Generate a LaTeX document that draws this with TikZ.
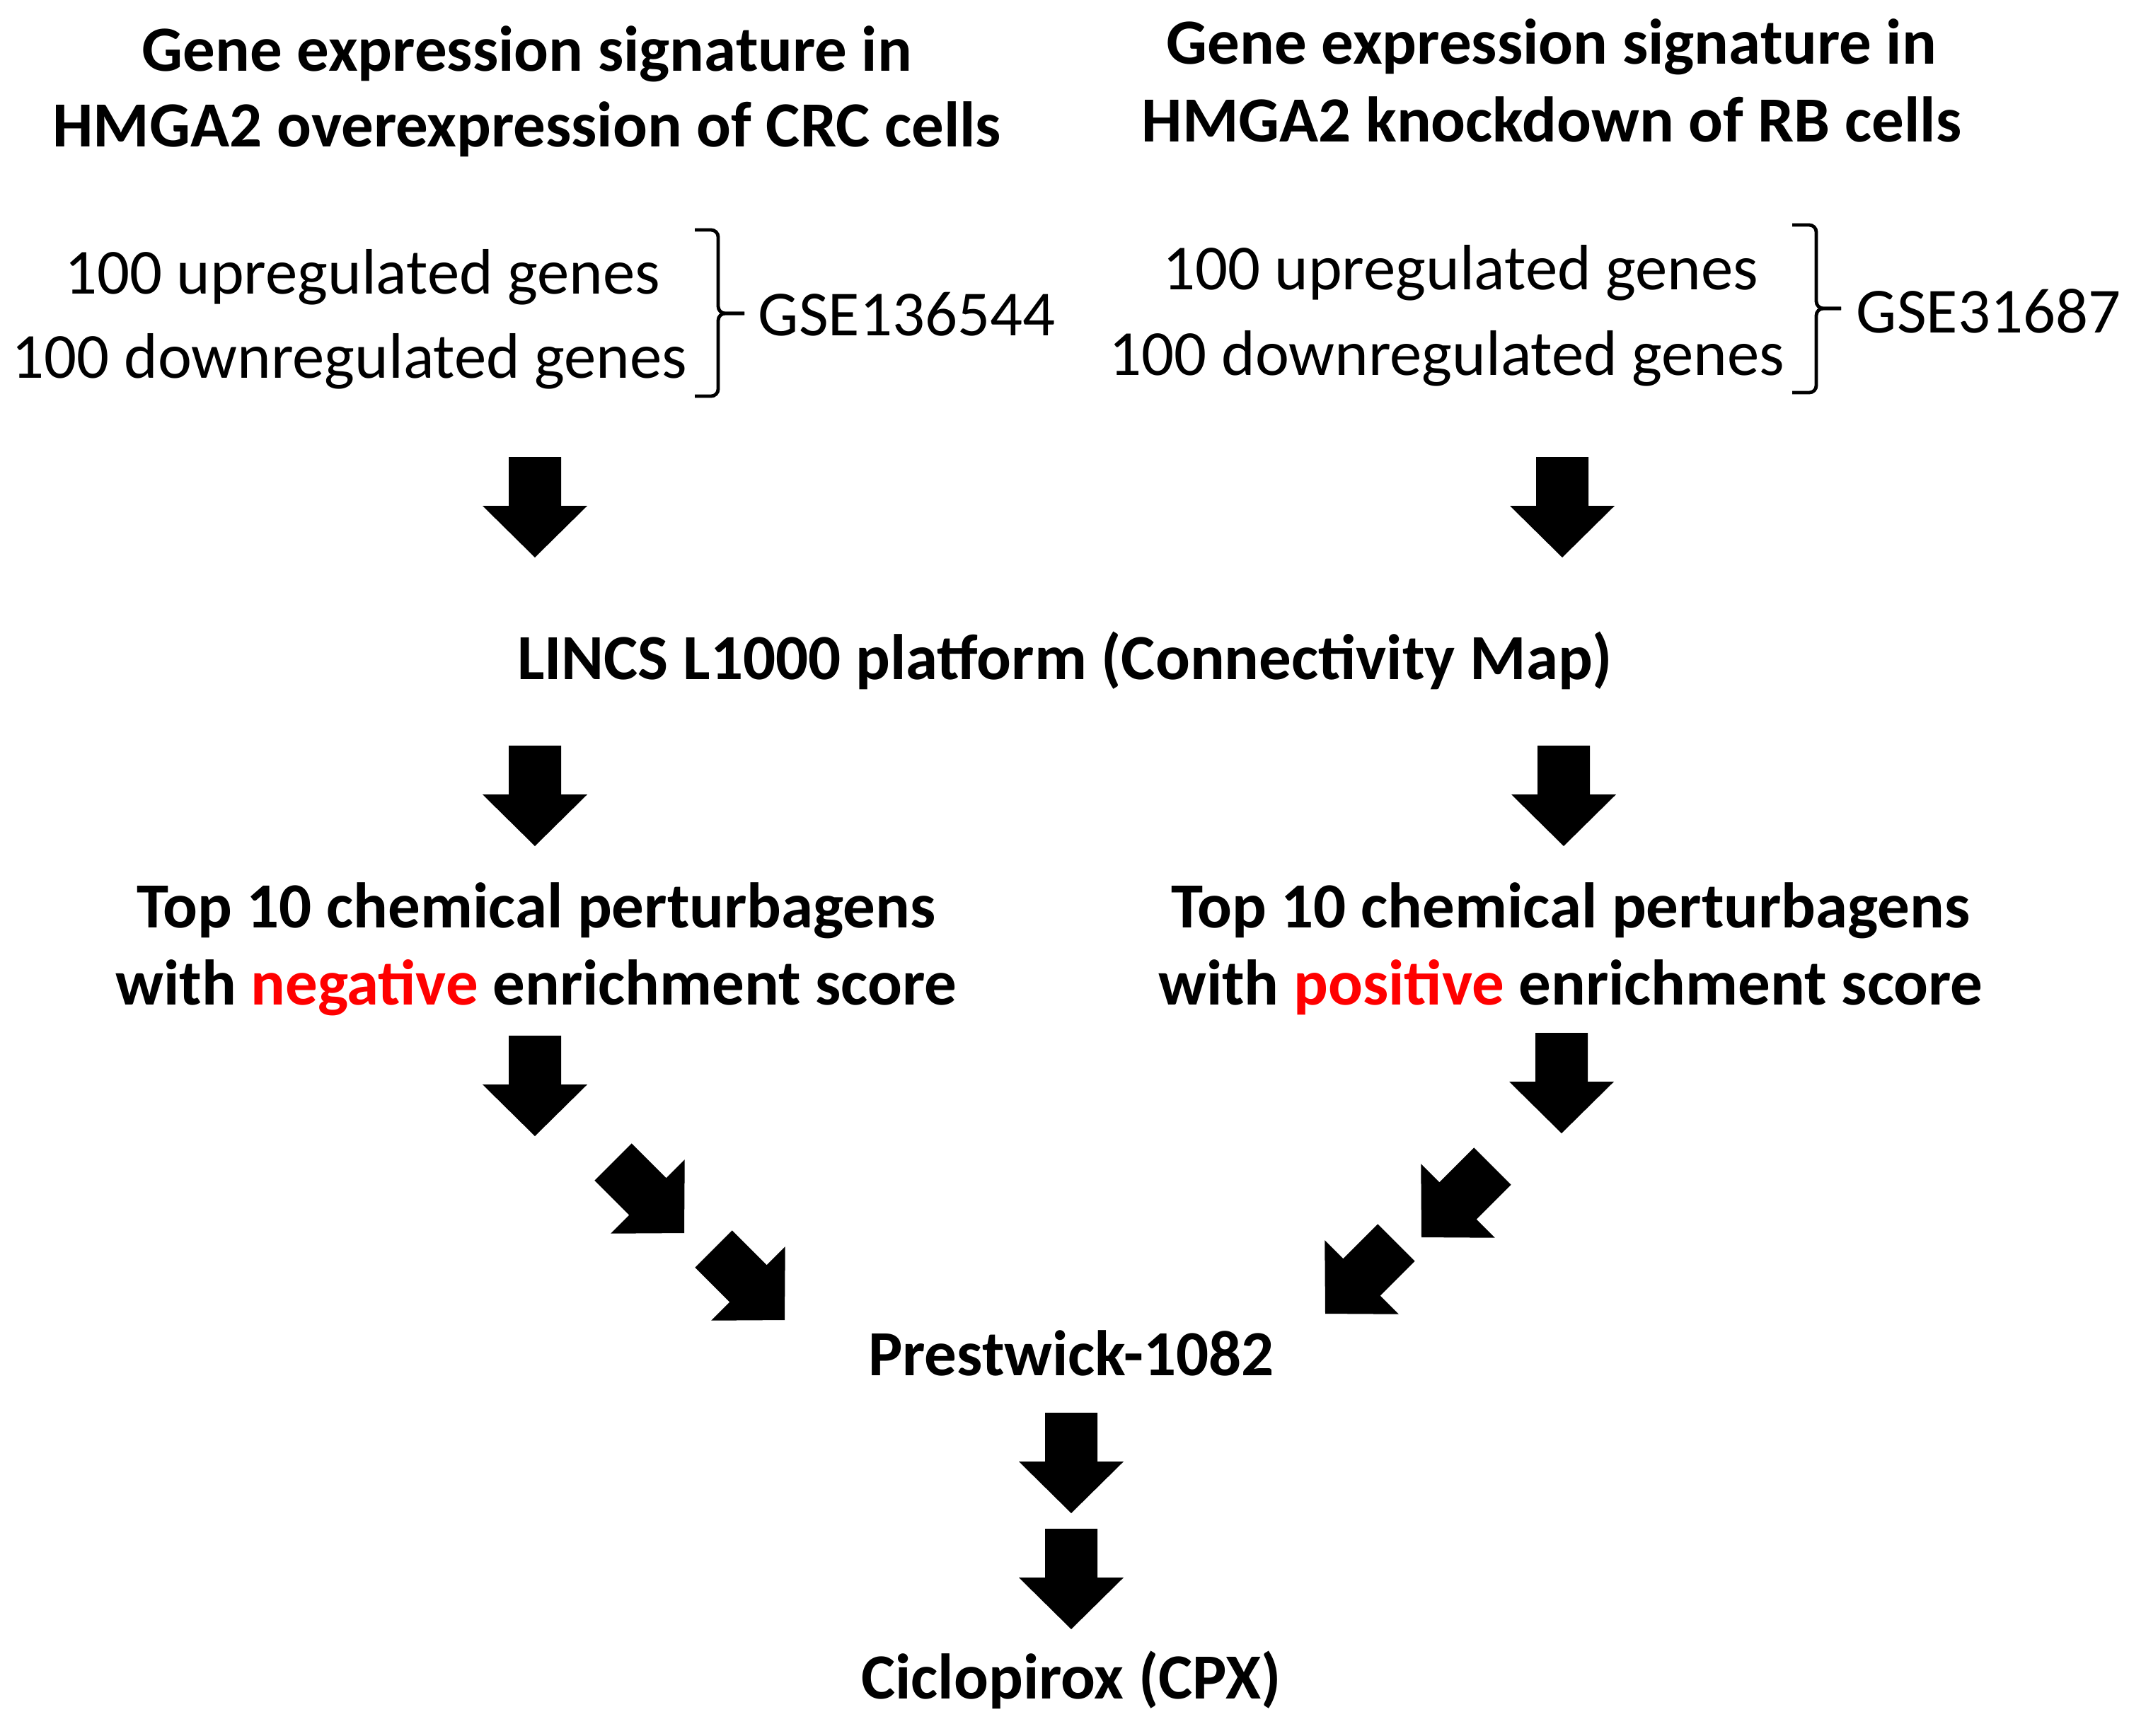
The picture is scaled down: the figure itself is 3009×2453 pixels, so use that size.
\documentclass[tikz,border=0pt]{standalone}
\usepackage{fontspec}
\setmainfont{Carlito}
\definecolor{hlred}{RGB}{255,0,0}
\begin{document}
\begin{tikzpicture}[x=0.25pt,y=-0.25pt,
  hd/.style={font=\fontsize{22.75}{27}\selectfont\bfseries, inner sep=0pt, anchor=base},
  rg/.style={font=\fontsize{22.7}{27}\selectfont, inner sep=0pt, anchor=base},
  brk/.style={line width=1.2pt, rounded corners=2.5pt},
  blockarrow/.pic={\fill[black] (-37,0) -- (37,0) -- (37,69) -- (74,69) -- (0,142) -- (-74,69) -- (-37,69) -- cycle;}]
\useasboundingbox[fill=white] (0,0) rectangle (3009,2453);
% titles
\node[hd] (t1a) at (745,100) {Gene expression signature in};
\node[hd] (t1b) at (745,207) {HMGA2 overexpression of CRC cells};
\node[hd] (t2a) at (2193,90) {Gene expression signature in};
\node[hd] (t2b) at (2193,200) {HMGA2 knockdown of RB cells};
% gene lists
\node[rg] (u1) at (512,415) {100 upregulated genes};
\node[rg] (d1) at (494,534) {100 downregulated genes};
\node[rg,anchor=base west] (g1) at (1071,474) {GSE136544};
\node[rg] (u2) at (2064,409) {100 upregulated genes};
\node[rg] (d2) at (2045,530) {100 downregulated genes};
\node[rg,anchor=base west] (g2) at (2623,470) {GSE31687};
% brackets
\draw[brk] (982,325) -- (1015,325) -- (1015,443) -- (1052,443);
\draw[brk] (982,560) -- (1015,560) -- (1015,443) -- (1052,443);
\draw[brk] (2533,318) -- (2567,318) -- (2567,436) -- (2602,436);
\draw[brk] (2533,555) -- (2567,555) -- (2567,436) -- (2602,436);
% middle
\node[hd] (lincs) at (1505,960) {LINCS L1000 platform (Connectivity Map)};
\node[hd] (n1a) at (758,1311) {Top 10 chemical perturbagens};
\node[hd] (n1b) at (758,1420) {with \textcolor{hlred}{negative} enrichment score};
\node[hd] (p1a) at (2220,1311) {Top 10 chemical perturbagens};
\node[hd] (p1b) at (2220,1420) {with \textcolor{hlred}{positive} enrichment score};
\node[hd] (pw) at (1514,1944) {Prestwick-1082};
\node[hd] (cpx) at (1514,2401) {Ciclopirox (CPX)};
% arrows
\pic at (756,646) {blockarrow};
\pic at (2208,646) {blockarrow};
\pic at (756,1054) {blockarrow};
\pic at (2210,1054) {blockarrow};
\pic at (756,1464) {blockarrow};
\pic at (2207,1460) {blockarrow};
\pic[rotate=45] at (866.6,1642.6) {blockarrow};
\pic[rotate=45] at (1008.6,1765.6) {blockarrow};
\pic[rotate=-45] at (2109.4,1648.6) {blockarrow};
\pic[rotate=-45] at (1973.4,1756.6) {blockarrow};
\pic at (1514,1997) {blockarrow};
\pic at (1514,2161) {blockarrow};
\end{tikzpicture}
\end{document}
